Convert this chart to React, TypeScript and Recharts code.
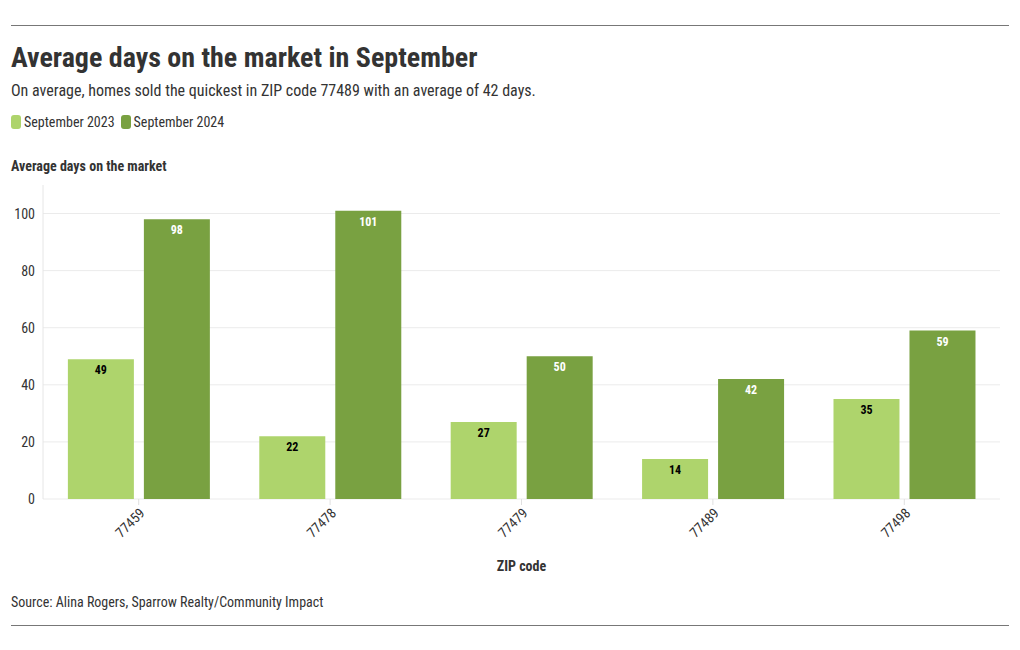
import { Bar, BarChart, CartesianGrid, LabelList, XAxis, YAxis } from "recharts"

const zipCodes = ["77459", "77478", "77479", "77489", "77498"]
const sept2023 = [49, 22, 27, 14, 35]
const sept2024 = [98, 101, 50, 42, 59]
const yTicks = [0, 20, 40, 60, 80, 100]
const Y_MAX = 110

const LIGHT = "#aed46c"
const DARK = "#79a141"
const TEXT = "#333333"
const FONT = "'Roboto Condensed', 'Liberation Sans Narrow', 'DejaVu Sans Condensed', Roboto, sans-serif"

const data = zipCodes.map((zip, i) => ({ zip, y2023: sept2023[i], y2024: sept2024[i] }))

const renderLabel = (fill: string) => (props: any) => {
  const { x, y, width, value } = props
  return (
    <text
      x={x + width / 2}
      y={y + 15}
      textAnchor="middle"
      fill={fill}
      fontSize={12}
      fontWeight={700}
      fontFamily={FONT}
    >
      {value}
    </text>
  )
}

// grid lines only at the labelled ticks (no line at the domain top)
const gridLines = ({ offset }: any) =>
  yTicks.map((t) => offset.top + offset.height * (1 - t / Y_MAX))

export default function App() {
  return (
    <div style={{ position: "absolute", left: 0, top: 0, width: 1020, height: 650, fontFamily: FONT, color: TEXT, background: "#fff" }}>
      <div style={{ position: "absolute", left: 11, top: 25, width: 998, borderTop: "1px solid #777" }} />
      <div style={{ position: "absolute", left: 11, top: 41, fontSize: 28, fontWeight: 700, whiteSpace: "nowrap" }}>
        Average days on the market in September
      </div>
      <div style={{ position: "absolute", left: 11, top: 81, fontSize: 16, whiteSpace: "nowrap" }}>
        On average, homes sold the quickest in ZIP code 77489 with an average of 42 days.
      </div>
      <div style={{ position: "absolute", left: 11, top: 114, fontSize: 14, display: "flex", alignItems: "center", whiteSpace: "nowrap" }}>
        <span style={{ display: "inline-block", width: 10, height: 14, borderRadius: 3, background: LIGHT, marginRight: 3 }} />
        <span style={{ marginRight: 6 }}>September 2023</span>
        <span style={{ display: "inline-block", width: 10, height: 14, borderRadius: 3, background: DARK, marginRight: 3 }} />
        <span>September 2024</span>
      </div>
      <div style={{ position: "absolute", left: 11, top: 158, fontSize: 14, fontWeight: 700, whiteSpace: "nowrap" }}>
        Average days on the market
      </div>
      <div style={{ position: "absolute", left: 0, top: 175 }}>
        <BarChart
          width={1020}
          height={404}
          data={data}
          margin={{ top: 10, right: 20, left: 0, bottom: 0 }}
          barGap={10}
          barCategoryGap="13%"
        >
          <CartesianGrid vertical={false} stroke="#ebebeb" horizontalCoordinatesGenerator={gridLines} />
          <XAxis
            dataKey="zip"
            height={80}
            interval={0}
            angle={-45}
            textAnchor="end"
            axisLine={false}
            tickLine={{ stroke: "#e0e0e0" }}
            tickSize={6}
            tick={{ fill: TEXT, fontSize: 14, fontFamily: FONT }}
            label={{ value: "ZIP code", position: "insideBottom", offset: 8, fill: TEXT, fontSize: 14, fontWeight: 700, fontFamily: FONT }}
          />
          <YAxis
            width={43}
            domain={[0, Y_MAX]}
            ticks={yTicks}
            axisLine={{ stroke: "#e6e6e6" }}
            tickLine={false}
            tick={{ fill: TEXT, fontSize: 14, fontFamily: FONT }}
          />
          <Bar dataKey="y2023" fill={LIGHT} isAnimationActive={false}>
            <LabelList dataKey="y2023" content={renderLabel("#000")} />
          </Bar>
          <Bar dataKey="y2024" fill={DARK} isAnimationActive={false}>
            <LabelList dataKey="y2024" content={renderLabel("#fff")} />
          </Bar>
        </BarChart>
      </div>
      <div style={{ position: "absolute", left: 11, top: 594, fontSize: 14, whiteSpace: "nowrap" }}>
        Source: Alina Rogers, Sparrow Realty/Community Impact
      </div>
      <div style={{ position: "absolute", left: 11, top: 625, width: 998, borderTop: "1px solid #777" }} />
    </div>
  )
}
